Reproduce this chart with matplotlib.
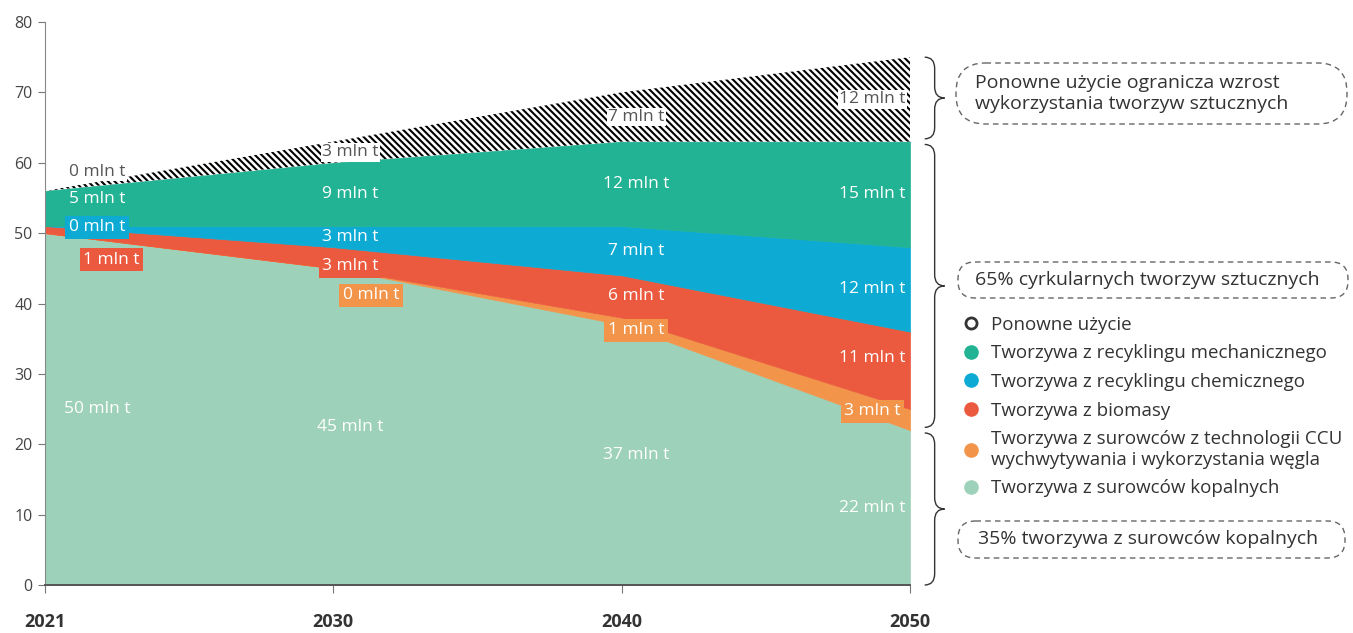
import matplotlib
import matplotlib.pyplot as plt
from matplotlib.lines import Line2D
from matplotlib.patches import FancyBboxPatch, PathPatch
from matplotlib.path import Path
import matplotlib.transforms as mtransforms
import numpy as np

matplotlib.rcParams["font.family"] = ["Open Sans", "DejaVu Sans"]
matplotlib.rcParams["hatch.linewidth"] = 1.5

# plastics demand, mln t per year
years = ["2021", "2030", "2040", "2050"]
fossil = [50, 45, 37, 22]
ccu = [0, 0, 1, 3]
biomass = [1, 3, 6, 11]
chemical = [0, 3, 7, 12]
mechanical = [5, 9, 12, 15]
reuse = [0, 3, 7, 12]

names = [
    "Tworzywa z surowców kopalnych",
    "Tworzywa z surowców z technologii CCU\nwychwytywania i wykorzystania węgla",
    "Tworzywa z biomasy",
    "Tworzywa z recyklingu chemicznego",
    "Tworzywa z recyklingu mechanicznego",
    "Ponowne użycie",
]
colors = ["#9DD1B9", "#F2954A", "#EB5A3F", "#0DABD4", "#22B294", "white"]

notes = [
    "Ponowne użycie ogranicza wzrost\nwykorzystania tworzyw sztucznych",
    "65% cyrkularnych tworzyw sztucznych",
    "35% tworzywa z surowców kopalnych",
]

# label placement (x per column, tweaks per band/column)
label_x = [0.18, 1.06, 2.05, 2.87]
label_dy = {(5, 0): 2.7, (4, 0): 1.3, (3, 0): -0.2, (2, 0): -4.3, (1, 1): -3.8,
            (2, 1): -1.2, (1, 2): -1.3, (1, 3): 1.2, (2, 3): 1.7}
label_dx = {(2, 0): 0.05, (1, 1): 0.07}
boxed = {(3, 0), (2, 0), (2, 1), (1, 1), (1, 2), (1, 3)}
unlabelled = {(1, 0)}
leaders = {(2, 0): (0.13, -0.9), (1, 1): (0.0, -0.9)}


def draw_brace(ax, y0, y1, xa=1.017, xb=1.040, d=1.6):
    trans = mtransforms.blended_transform_factory(ax.transAxes, ax.transData)
    xm = (xa + xb) / 2
    mid = (y0 + y1) / 2
    verts = [(xa, y1), (xm, y1), (xm, y1 - d), (xm, mid + d), (xm, mid), (xb, mid),
             (xm, mid), (xm, mid - d), (xm, y0 + d), (xm, y0), (xa, y0)]
    codes = [Path.MOVETO, Path.CURVE3, Path.CURVE3, Path.LINETO, Path.CURVE3, Path.CURVE3,
             Path.CURVE3, Path.CURVE3, Path.LINETO, Path.CURVE3, Path.CURVE3]
    ax.add_patch(PathPatch(Path(verts, codes), transform=trans, fill=False,
                           edgecolor="#333333", lw=1.0, clip_on=False))


fig = plt.figure(figsize=(13.53, 6.33), dpi=100)
ax = fig.add_axes([45 / 1353, 48 / 633, 865 / 1353, 563 / 633])

x = np.arange(len(years))
series = [fossil, ccu, biomass, chemical, mechanical, reuse]
stack = np.vstack(series).astype(float)
tops = np.cumsum(stack, axis=0)
bottoms = tops - stack

for i, (vals, col) in enumerate(zip(series, colors)):
    if i == 5:
        ax.fill_between(x, bottoms[i], tops[i], facecolor="white", edgecolor="black",
                        hatch="\\\\\\\\\\", linewidth=0)
    else:
        ax.fill_between(x, bottoms[i], tops[i], facecolor=col, edgecolor=col,
                        linewidth=0.5)

# value labels
for i, vals in enumerate(series):
    for j, v in enumerate(vals):
        key = (i, j)
        if key in unlabelled:
            continue
        ly = (bottoms[i][j] + tops[i][j]) / 2 + label_dy.get(key, 0)
        lx = label_x[j] + label_dx.get(key, 0)
        txt = f"{v} mln t"
        if i == 5:
            ax.text(lx, ly, txt, ha="center", va="center", fontsize=12.5, color="#555555",
                    bbox=dict(boxstyle="square,pad=0.08", facecolor="white", edgecolor="none"),
                    zorder=5)
        elif key in boxed:
            ax.text(lx, ly, txt, ha="center", va="center", fontsize=12.5, color="white",
                    bbox=dict(boxstyle="square,pad=0.2", facecolor=colors[i], edgecolor="none"),
                    zorder=5)
        else:
            ax.text(lx, ly, txt, ha="center", va="center", fontsize=12.5, color="white",
                    zorder=5)
        if key in leaders:
            sx, sy = leaders[key]
            y_band = (bottoms[i][j] + tops[i][j]) / 2
            ax.plot([x[j] + sx, x[j] + sx + 0.045], [y_band - 0.3, y_band - 0.3 + sy],
                    color="black", lw=0.8, zorder=4)

ax.set_xlim(0, 3)
ax.set_ylim(0, 80)
ax.set_yticks(np.arange(0, 81, 10))
ax.set_xticks(x)
ax.set_xticklabels(years, fontweight="bold", fontsize=13, color="#333333")
ax.tick_params(axis="x", length=6, width=0.8, color="#777777", pad=14)
ax.tick_params(axis="y", length=5, width=0.8, color="#777777", labelsize=11.5,
               labelcolor="#444444", pad=4)
for s in ["top", "right"]:
    ax.spines[s].set_visible(False)
ax.spines["left"].set_color("#888888")
ax.spines["bottom"].set_color("#555555")
ax.spines["bottom"].set_linewidth(1.4)
ax.spines["left"].set_zorder(6)
ax.spines["bottom"].set_zorder(6)

# braces grouping the bands at 2050
total = tops[5][-1]
circular = tops[4][-1]
fossil_top = tops[0][-1]
draw_brace(ax, circular + 0.4, total)
draw_brace(ax, fossil_top + 0.4, circular - 0.4)
draw_brace(ax, 0, fossil_top - 0.4)

# dashed call-out boxes
over = fig.add_axes([0, 0, 1, 1], facecolor="none")
over.set_xlim(0, 1353)
over.set_ylim(633, 0)
over.axis("off")
box_specs = [(956, 63, 391, 61, 975), (958, 262, 390, 36, 975), (958, 521, 387, 37, 978)]
for (bx, by, bw, bh, tx), note in zip(box_specs, notes):
    over.add_patch(FancyBboxPatch((bx, by), bw, bh,
                                  boxstyle=f"round,pad=0,rounding_size={bh / 2 - 1}",
                                  facecolor="none", edgecolor="#666666", lw=1.0,
                                  linestyle=(0, (4, 3))))
    over.text(tx, by + bh / 2, note, ha="left", va="center", fontsize=14,
              color="#333333", linespacing=1.15)

# legend
handles = []
labels = []
for i in [5, 4, 3, 2, 1, 0]:
    if i == 5:
        h = Line2D([], [], ls="none", marker="o", markersize=8, markerfacecolor="white",
                   markeredgecolor="#333333", markeredgewidth=2)
    else:
        h = Line2D([], [], ls="none", marker="o", markersize=9.5, markerfacecolor=colors[i],
                   markeredgecolor=colors[i])
    handles.append(h)
    labels.append(names[i])
fig.legend(handles, labels, loc="upper left", bbox_to_anchor=(962 / 1353, (633 - 316) / 633),
           frameon=False, fontsize=13.5, labelcolor="#333333", handlelength=1.0,
           handletextpad=0.55, labelspacing=0.56, borderpad=0, borderaxespad=0)

fig.savefig("out.png", dpi=100)
